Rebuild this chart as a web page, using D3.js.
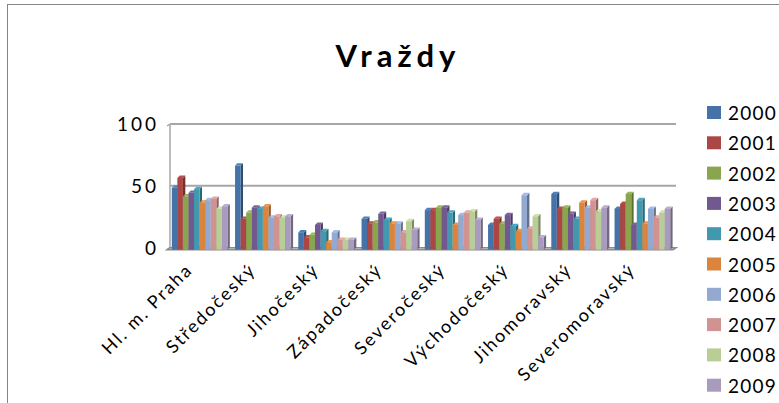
<!DOCTYPE html>
<html>
<head>
<meta charset="utf-8">
<script src="https://cdn.jsdelivr.net/npm/d3@7"></script>
<style>
  html, body { margin: 0; padding: 0; background: #fff; }
  svg { display: block; font-family: Lato, "Open Sans", sans-serif; }
</style>
</head>
<body>
<svg id="chart" width="779" height="403"></svg>
<script>
// Regions (categories) and the years shown in the legend
const regions = ["Hl. m. Praha", "Středočeský", "Jihočeský", "Západočeský",
                 "Severočeský", "Východočeský", "Jihomoravský", "Severomoravský"];
const years = ["2000", "2001", "2002", "2003", "2004", "2005", "2006", "2007", "2008", "2009"];

// Murders per region, one array per year (order follows `regions`)
const v2000 = [50, 68, 14, 25, 32, 20, 45, 33];
const v2001 = [58, 25, 10, 21, 32, 25, 33, 37];
const v2002 = [43, 30, 12, 22, 34, 21, 34, 45];
const v2003 = [46, 34, 20, 29, 34, 28, 29, 20];
const v2004 = [49, 33, 15, 24, 30, 19, 25, 40];
const v2005 = [38, 35, 6, 21, 20, 15, 38, 21];
const v2006 = [40, 26, 14, 21, 28, 44, 34, 33];
const v2007 = [41, 27, 8, 14, 30, 17, 40, 26];
const v2008 = [33, 26, 8, 23, 31, 27, 31, 30];
const v2009 = [35, 27, 8, 16, 24, 10, 34, 33];
const series = [v2000, v2001, v2002, v2003, v2004, v2005, v2006, v2007, v2008, v2009];

const yTicks = [0, 50, 100];
const colors = ["#4572A7", "#AA4643", "#89A54E", "#71588F", "#4198AF",
                "#DB843D", "#93A9CF", "#D19392", "#B9CD96", "#A99BBD"];

const svg = d3.select("#chart");

// outer chart frame
svg.append("rect")
  .attr("x", 7.5).attr("y", 4.5)
  .attr("width", 800).attr("height", 420)
  .attr("fill", "none").attr("stroke", "#868686").attr("stroke-width", 1);

// title
svg.append("text")
  .attr("x", 398).attr("y", 67)
  .attr("text-anchor", "middle")
  .attr("font-size", 31).attr("font-weight", "bold")
  .attr("letter-spacing", 5)
  .attr("fill", "#000")
  .text("Vraždy");

// back wall geometry and the depth offset of the bars' front faces
const wallLeft = 170, wallRight = 676;
const depthX = -3, depthY = 2;

const y = d3.scaleLinear().domain([0, 100]).range([247.7, 124]);
const x0 = d3.scaleBand().domain(regions).range([wallLeft + 1, wallRight + 1]).paddingInner(0.12).paddingOuter(0.06);
const x1 = d3.scaleBand().domain(years).range([0, x0.bandwidth()]).padding(0);

// gridlines on the back wall
svg.append("g").selectAll("line")
  .data(yTicks.filter(t => t > 0))
  .join("line")
  .attr("x1", wallLeft).attr("x2", wallRight)
  .attr("y1", d => y(d)).attr("y2", d => y(d))
  .attr("stroke", "#A6A6A6").attr("stroke-width", 2);

// left wall edge and its short slant to the front
svg.append("path")
  .attr("d", `M${wallLeft},${y(100)} L${wallLeft},${y(0)} L${wallLeft + depthX},${y(0) + depthY}`)
  .attr("fill", "none").attr("stroke", "#A6A6A6").attr("stroke-width", 1.5);
svg.append("path")
  .attr("d", `M${wallLeft + depthX},${y(100) + depthY} L${wallLeft},${y(100)}`)
  .attr("fill", "none").attr("stroke", "#A6A6A6").attr("stroke-width", 1.5);

// floor
svg.append("path")
  .attr("d", `M${wallLeft},${y(0)} L${wallRight},${y(0)} L${wallRight + depthX},${y(0) + depthY} L${wallLeft + depthX},${y(0) + depthY} Z`)
  .attr("fill", "#D9D9D9").attr("stroke", "#8C8C8C").attr("stroke-width", 1.5);

// y axis labels
svg.append("g").selectAll("text")
  .data(yTicks)
  .join("text")
  .attr("x", 159).attr("y", d => y(d) + 7)
  .attr("text-anchor", "end")
  .attr("font-size", 19).attr("letter-spacing", 3).attr("fill", "#000")
  .text(d => d);

// bars with a shallow 3D look: front face, darker side, lighter top
const bx = 2.4, by = 2.4; // bar depth
const bars = svg.append("g");
regions.forEach((r, ri) => {
  years.forEach((yr, si) => {
    const val = series[si][ri];
    const left = x0(r) + x1(yr) + depthX;
    const w = x1.bandwidth();
    const top = y(val) + depthY;
    const bottom = y(0) + depthY;
    const c = d3.color(colors[si]);
    const g = bars.append("g");
    // side face
    g.append("path")
      .attr("d", `M${left + w},${bottom} L${left + w},${top} L${left + w + bx},${top - by} L${left + w + bx},${bottom - by} Z`)
      .attr("fill", c.darker(1.1));
    // top face
    g.append("path")
      .attr("d", `M${left},${top} L${left + bx},${top - by} L${left + w + bx},${top - by} L${left + w},${top} Z`)
      .attr("fill", c.brighter(0.3));
    // front face
    g.append("rect")
      .attr("x", left).attr("y", top)
      .attr("width", w).attr("height", bottom - top)
      .attr("fill", colors[si]);
  });
});

// category labels, rotated
svg.append("g").selectAll("text")
  .data(regions)
  .join("text")
  .attr("transform", d => `translate(${x0(d) + x0.bandwidth() / 2 - 9},${271}) rotate(-45)`)
  .attr("text-anchor", "end")
  .attr("font-size", 18).attr("letter-spacing", 2).attr("fill", "#000")
  .text(d => d);

// legend
const legend = svg.append("g").selectAll("g")
  .data(years)
  .join("g")
  .attr("transform", (d, i) => `translate(707,${113 + i * 30.3})`);
legend.append("rect")
  .attr("x", 0).attr("y", -7)
  .attr("width", 14).attr("height", 13)
  .attr("fill", (d, i) => colors[i]);
legend.append("text")
  .attr("x", 21).attr("y", 7)
  .attr("font-size", 19).attr("letter-spacing", 1.2).attr("fill", "#000")
  .text(d => d);
</script>
</body>
</html>
